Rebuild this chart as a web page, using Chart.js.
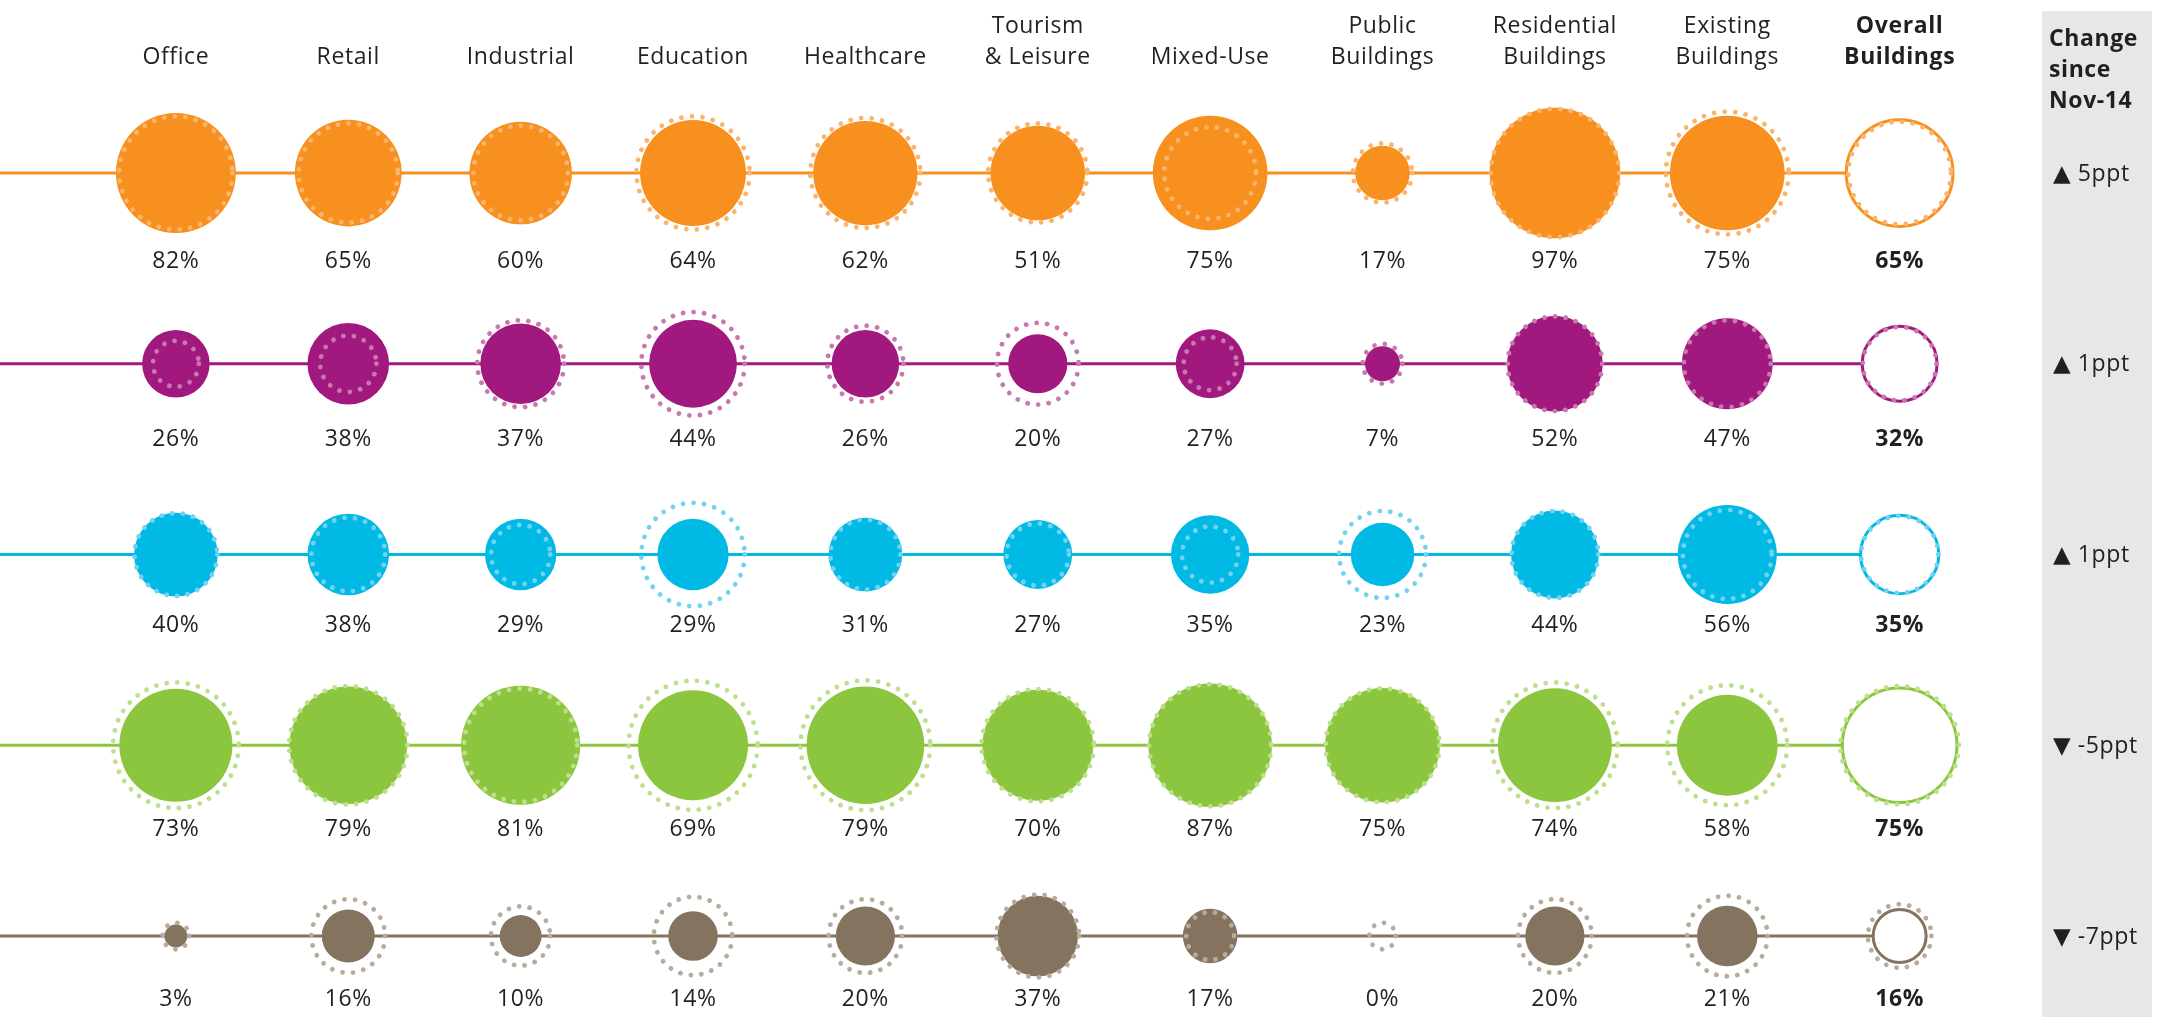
<!DOCTYPE html>
<html>
<head>
<meta charset="utf-8">
<script src="https://cdn.jsdelivr.net/npm/chart.js@4.4.1/dist/chart.umd.min.js"></script>
<style>
  html, body { margin: 0; padding: 0; background: #ffffff; }
  #wrap { position: relative; width: 2167px; height: 1017px; }
</style>
</head>
<body>
<div id="wrap"><canvas id="c"></canvas></div>
<script>
// ---------- DATA ----------
const categories = ['Office', 'Retail', 'Industrial', 'Education', 'Healthcare', 'Tourism\n& Leisure',
  'Mixed-Use', 'Public\nBuildings', 'Residential\nBuildings', 'Existing\nBuildings', 'Overall\nBuildings'];

// current values (%) per row
const row1Now = [82, 65, 60, 64, 62, 51, 75, 17, 97, 75, 65];
const row2Now = [26, 38, 37, 44, 26, 20, 27, 7, 52, 47, 32];
const row3Now = [40, 38, 29, 29, 31, 27, 35, 23, 44, 56, 35];
const row4Now = [73, 79, 81, 69, 79, 70, 87, 75, 74, 58, 75];
const row5Now = [3, 16, 10, 14, 20, 37, 17, 0, 20, 21, 16];

// Nov-14 values (%) per row (dotted rings)
const row1Prev = [73, 56, 51, 73, 69, 56, 48, 20, 94, 86, 60];
const row2Prev = [12, 18, 43, 61, 33, 38, 16, 9, 51, 43, 31];
const row3Prev = [39, 31, 20, 61, 28, 22, 18, 43, 43, 45, 34];
const row4Prev = [90, 80, 73, 95, 96, 72, 85, 74, 90, 82, 80];
const row5Prev = [4, 31, 20, 35, 31, 39, 13, 4, 31, 37, 23];

// change since Nov-14 (ppt) per row
const changePpt = [5, 1, 1, -5, -7];
const changeTitle = ['Change', 'since', 'Nov-14'];

// ---------- STYLE ----------
const FONT = "'Open Sans', 'DejaVu Sans', sans-serif";
const TEXT = '#231f20';
const rowColors = ['#f7901e', '#a1197e', '#00b9e5', '#8cc63f', '#84735f'];
const rowTints  = ['#fab46c', '#c878b0', '#72d2f0', '#bddf8e', '#b7ab9c'];
const labelGap  = [88, 76, 71, 84, 63];   // distance from row line to value label centre
const K = 6.62;                            // radius px per sqrt(percent)
const X_MIN = -1.0204, X_MAX = 11.551;
const Y_MIN = -0.5064, Y_MAX = 4.4246;
const OVERALL = categories.length - 1;

const nowRows = [row1Now, row2Now, row3Now, row4Now, row5Now];
const prevRows = [row1Prev, row2Prev, row3Prev, row4Prev, row5Prev];

const datasets = [];
nowRows.forEach((vals, r) => {
  datasets.push({
    type: 'line', order: 3,
    data: [{ x: X_MIN, y: r }, { x: OVERALL, y: r }],
    borderColor: rowColors[r], borderWidth: 3, pointRadius: 0, fill: false, clip: false
  });
  datasets.push({
    type: 'bubble', order: 2, clip: false,
    data: vals.map((v, i) => ({ x: i, y: r, v: v })),
    radius: ctx => K * Math.sqrt(ctx.raw.v),
    backgroundColor: ctx => ctx.dataIndex === OVERALL ? '#ffffff' : rowColors[r],
    borderColor: rowColors[r],
    borderWidth: ctx => ctx.dataIndex === OVERALL ? 3 : 0,
    hoverRadius: 0
  });
  datasets.push({
    type: 'bubble', order: 1, clip: false, dotted: true,
    data: prevRows[r].map((v, i) => ({ x: i, y: r, v: v })),
    radius: ctx => K * Math.sqrt(ctx.raw.v),
    backgroundColor: 'rgba(0,0,0,0)',
    borderColor: rowTints[r],
    borderWidth: 4.8,
    hoverRadius: 0
  });
});

const dottedPlugin = {
  id: 'dotted',
  beforeDraw(chart) { chart.ctx.letterSpacing = '0.6px'; },
  beforeDatasetDraw(chart, args) {
    if (chart.data.datasets[args.index].dotted) {
      chart.ctx.save();
      chart.ctx.setLineDash([0.001, 10.6]);
      chart.ctx.lineCap = 'round';
    }
  },
  afterDatasetDraw(chart, args) {
    if (chart.data.datasets[args.index].dotted) chart.ctx.restore();
  }
};

const panelPlugin = {
  id: 'panel',
  beforeDatasetsDraw(chart) {
    const ctx = chart.ctx;
    ctx.save();
    ctx.fillStyle = '#e6e7e8';
    ctx.fillRect(2042, 11, 110, 1006);
    ctx.fillStyle = TEXT;
    ctx.textAlign = 'left';
    ctx.textBaseline = 'alphabetic';
    ctx.font = "bold 23px " + FONT;
    changeTitle.forEach((t, i) => ctx.fillText(t, 2049, 46 + i * 31));
    ctx.font = "23px " + FONT;
    ctx.textBaseline = 'middle';
    const ys = chart.scales.y;
    changePpt.forEach((c, r) => {
      const y = ys.getPixelForValue(r);
      ctx.fillText((c >= 0 ? '\u25B2 ' : '\u25BC ') + c + 'ppt', 2053, y + 1);
    });
    ctx.restore();
  }
};

const labelPlugin = {
  id: 'valueLabels',
  afterDatasetsDraw(chart) {
    const ctx = chart.ctx;
    const xs = chart.scales.x, ys = chart.scales.y;
    ctx.save();
    ctx.fillStyle = TEXT;
    ctx.textAlign = 'center';
    ctx.textBaseline = 'middle';
    nowRows.forEach((vals, r) => {
      vals.forEach((v, i) => {
        ctx.font = (i === OVERALL ? 'bold ' : '') + '23px ' + FONT;
        ctx.fillText(v + '%', xs.getPixelForValue(i), ys.getPixelForValue(r) + labelGap[r]);
      });
    });
    ctx.restore();
  }
};

Chart.defaults.font.family = FONT;
new Chart(document.getElementById('c'), {
  type: 'bubble',
  data: { datasets },
  plugins: [dottedPlugin, panelPlugin, labelPlugin],
  options: {
    responsive: true, maintainAspectRatio: false, animation: false, events: [],
    layout: { autoPadding: false, padding: { top: 7, left: 0, right: 0, bottom: 0 } },
    plugins: { legend: { display: false }, tooltip: { enabled: false } },
    scales: {
      x: {
        type: 'linear', position: 'top', min: X_MIN, max: X_MAX, bounds: 'data',
        grid: { display: false, drawTicks: false }, border: { display: false },
        afterBuildTicks: s => { s.ticks = categories.map((_, i) => ({ value: i })); },
        ticks: {
          autoSkip: false, maxRotation: 0, minRotation: 0, padding: 4, color: TEXT,
          font: ctx => ({ family: FONT, size: 23, lineHeight: 1.335, weight: ctx.index === OVERALL ? 'bold' : 'normal' }),
          callback: v => (categories[v] !== undefined ? categories[v].split('\n') : '')
        }
      },
      y: { type: 'linear', display: false, reverse: true, min: Y_MIN, max: Y_MAX, bounds: 'data' }
    }
  }
});
</script>
</body>
</html>
